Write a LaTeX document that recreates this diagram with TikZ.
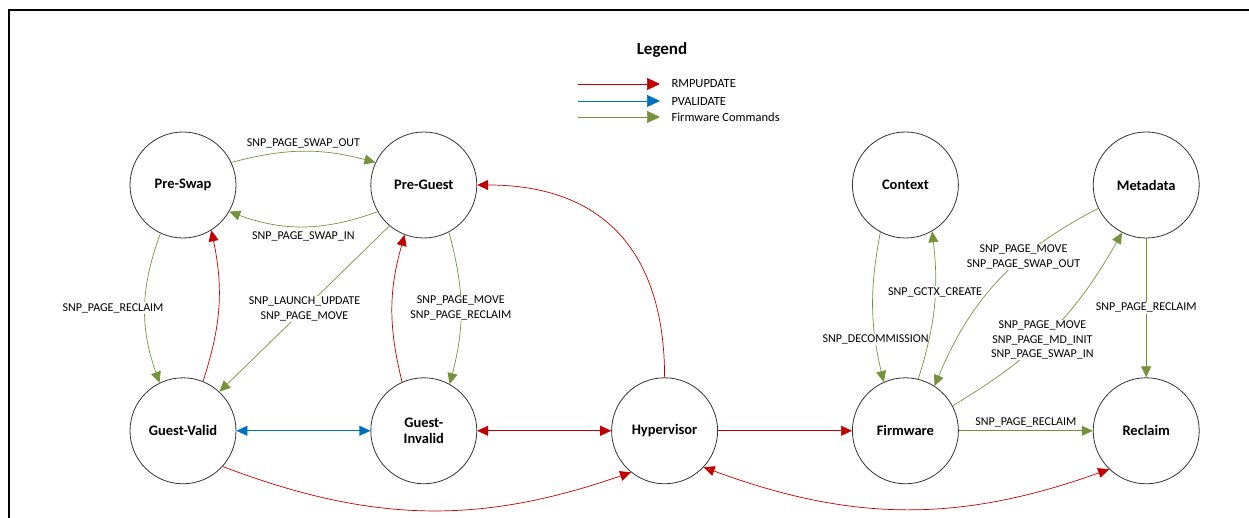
\documentclass[tikz,border=0pt]{standalone}
\usepackage{fontspec}
\setmainfont{Carlito}
\usetikzlibrary{arrows.meta, positioning}
\definecolor{RmpRed}{RGB}{192, 0, 0}
\definecolor{PvalBlue}{RGB}{0, 112, 192}
\definecolor{FwGreen}{RGB}{118, 146, 60}

\begin{document}
\begin{tikzpicture}[
    x=1pt, y=1pt,
    node distance=139pt and 134pt,
    every node/.style={font=\fontsize{12}{14.5}\selectfont, align=center},
    statenode/.style={circle, draw=black!80, line width=0.8pt, minimum size=106pt, inner sep=0pt, font=\fontsize{14.5}{16}\selectfont\bfseries},
    lbl/.style={fill=white, inner sep=1pt},
    rmp/.style={-{Triangle[length=11pt, width=10pt]}, draw=RmpRed, line width=0.7pt},
    rmpboth/.style={{Triangle[length=11pt, width=10pt]}-{Triangle[length=11pt, width=10pt]}, draw=RmpRed, line width=0.7pt},
    pvalboth/.style={{Triangle[length=11pt, width=10pt]}-{Triangle[length=11pt, width=10pt]}, draw=PvalBlue, line width=0.7pt},
    fw/.style={-{Triangle[length=11pt, width=10pt]}, draw=FwGreen, line width=0.7pt},
    legendtip/.style={-{Triangle[length=13pt, width=12pt]}},
    legendtext/.style={anchor=west, font=\fontsize{12.5}{14}\selectfont}
  ]
    \useasboundingbox (0,0) rectangle (1249,518);
    \draw[line width=2pt] (9,-5) -- (9,508) -- (1260,508);

    % Legend
    \node[font=\fontsize{17}{19}\selectfont\bfseries] (legend) at (662,468) {Legend};
    \coordinate (lgRmpA) at (578,434);
    \coordinate (lgRmpB) at (660,434);
    \coordinate (lgPvalA) at (578,417);
    \coordinate (lgPvalB) at (660,417);
    \coordinate (lgFwA) at (578,401);
    \coordinate (lgFwB) at (660,401);
    \draw[rmp, legendtip] (lgRmpA) -- (lgRmpB);
    \draw[rmp, draw=PvalBlue, legendtip] (lgPvalA) -- (lgPvalB);
    \draw[fw, legendtip] (lgFwA) -- (lgFwB);
    \node[legendtext] (lgRmp) at (668,434) {RMPUPDATE};
    \node[legendtext] (lgPval) at (668,417) {PVALIDATE};
    \node[legendtext] (lgFw) at (668,401) {Firmware Commands};

    % Row 1: Guest side
    \node[statenode] (preswap) at (183,333) {Pre-Swap};
    \node[statenode, right=of preswap] (preguest) {Pre-Guest};

    % Row 2: Guest, Hypervisor, Firmware
    \node[statenode, below=of preswap] (guestvalid) {Guest-Valid};
    \node[statenode, right=of guestvalid] (guestinvalid) {Guest-\\Invalid};
    \node[statenode, right=of guestinvalid] (hypervisor) {Hypervisor};
    \node[statenode, right=of hypervisor] (firmware) {Firmware};
    \node[statenode, right=of firmware] (reclaim) {Reclaim};

    % Row 1: Firmware side
    \node[statenode, above=of firmware] (context) {Context};
    \node[statenode, above=of reclaim] (metadata) {Metadata};

    % Connections
    \draw[fw] (preswap.25) to[bend left=15] node[above] {SNP\_PAGE\_SWAP\_OUT} (preguest.155);
    \draw[fw] (preguest.210) to[bend left=20] node[below=2pt] {SNP\_PAGE\_SWAP\_IN} (preswap.330);
    \draw[fw] (preswap.245) to[bend right=20] node[lbl, xshift=-32pt] {SNP\_PAGE\_RECLAIM} (guestvalid.116);
    \draw[rmp] (guestvalid.68) to[bend right=15] (preswap.302);
    \draw[fw] (preguest.230) -- node[lbl] {SNP\_LAUNCH\_UPDATE\\SNP\_PAGE\_MOVE} (guestvalid.47);
    \draw[rmp] (guestinvalid.114) to[bend left=15] (preguest.249);
    \draw[fw] (preguest.298) to[bend left=15] node[lbl] {SNP\_PAGE\_MOVE\\SNP\_PAGE\_RECLAIM} (guestinvalid.61);
    \draw[pvalboth] (guestvalid) -- (guestinvalid);
    \draw[rmpboth] (guestinvalid) -- (hypervisor);
    \draw[rmp] (hypervisor.north) to[out=90, in=0, looseness=1.2] (preguest.east);
    \draw[rmp] (guestvalid.318) to[bend right=20] (hypervisor.231);
    \draw[rmp] (hypervisor) -- (firmware);
    \draw[rmpboth] (hypervisor.317) to[bend right=20] (reclaim.226);
    \draw[fw] (context.242) to[bend right=12] node[lbl, pos=.73] {SNP\_DECOMMISSION} (firmware.114);
    \draw[fw] (firmware.76) to[bend right=12] node[lbl, pos=.6] {SNP\_GCTX\_CREATE} (context.300);
    \draw[fw] (metadata.206) to[bend right=20] node[lbl, pos=.35] {SNP\_PAGE\_MOVE\\SNP\_PAGE\_SWAP\_OUT} (firmware.57);
    \draw[fw] (firmware.28) to[bend right=15] node[lbl, pos=.45] {SNP\_PAGE\_MOVE\\SNP\_PAGE\_MD\_INIT\\SNP\_PAGE\_SWAP\_IN} (metadata.243);
    \draw[fw] (metadata) -- node[lbl] {SNP\_PAGE\_RECLAIM} (reclaim);
    \draw[fw] (firmware) -- node[above] {SNP\_PAGE\_RECLAIM} (reclaim);
  \end{tikzpicture}
\end{document}
